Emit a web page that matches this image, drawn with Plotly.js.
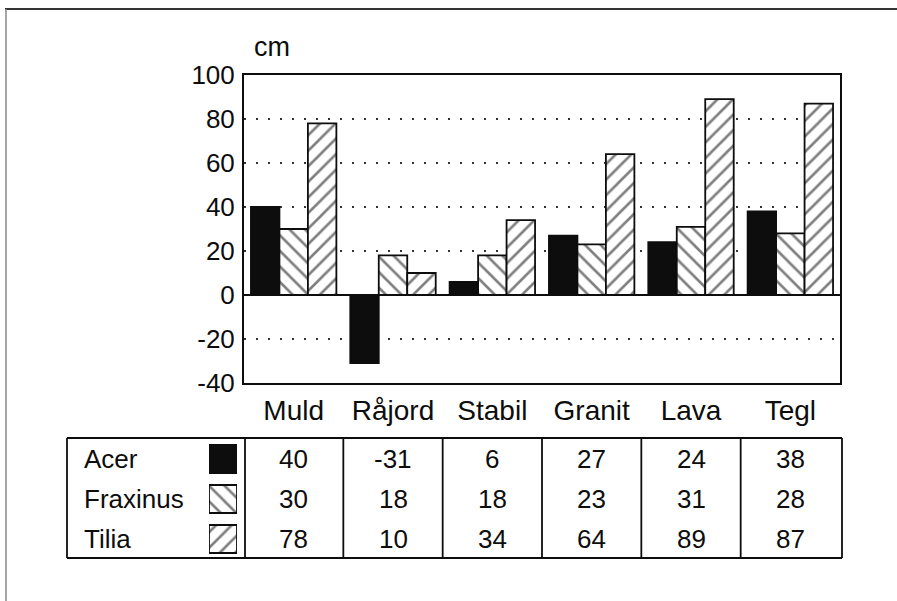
<!DOCTYPE html>
<html>
<head>
<meta charset="utf-8">
<script src="https://cdn.plot.ly/plotly-3.0.1.min.js"></script>
<style>html,body{margin:0;padding:0;background:#fff;}#chart{width:897px;height:601px;}</style>
</head>
<body>
<div id="chart"></div>
<script>
// ---- data ----
const categories = ["Muld", "Råjord", "Stabil", "Granit", "Lava", "Tegl"];
const seriesNames = ["Acer", "Fraxinus", "Tilia"];
const acer = [40, -31, 6, 27, 24, 38];
const fraxinus = [30, 18, 18, 23, 31, 28];
const tilia = [78, 10, 34, 64, 89, 87];
const yTickVals = [100, 80, 60, 40, 20, 0, -20, -40];
const unitLabel = "cm";

// ---- layout helpers (pixel -> paper) ----
const W = 897, H = 601;
const px = v => v / W;
const py = v => 1 - v / H;
const FONT = "Liberation Sans, Arial, Helvetica, sans-serif";
const ink = "#0d0d0d";

const seriesData = [acer, fraxinus, tilia];
const patterns = ["", "\\", "/"];

function markerFor(i) {
  if (i === 0) return {color: ink, line: {color: ink, width: 1.8}};
  return {
    color: "white",
    line: {color: ink, width: 1.8},
    pattern: {shape: patterns[i], fgcolor: "#000", bgcolor: "white", size: 11, solidity: 0.24, fillmode: "overlay"}
  };
}

const traces = seriesNames.map((name, i) => ({
  type: "bar", name: name, x: categories, y: seriesData[i],
  marker: markerFor(i), xaxis: "x", yaxis: "y", showlegend: false, hoverinfo: "x+y+name"
}));

// legend swatches in the table (separate small axes)
seriesNames.forEach((name, i) => {
  traces.push({
    type: "bar", orientation: "h", y: [name], x: [1], base: 0, width: 0.7,
    marker: markerFor(i), xaxis: "x2", yaxis: "y2", showlegend: false, hoverinfo: "skip"
  });
});

// table geometry
const tTop = 438, tBot = 558, tLeft = 67, tRight = 842;
const shapes = [];
// outer frame of the figure (top and left only)
shapes.push({type: "line", xref: "paper", yref: "paper", x0: px(5), x1: px(897), y0: py(9), y1: py(9), line: {color: "#333", width: 2}});
shapes.push({type: "line", xref: "paper", yref: "paper", x0: px(6), x1: px(6), y0: py(9), y1: py(601), line: {color: "#888", width: 1.5}});
// table rectangle
shapes.push({type: "line", xref: "paper", yref: "paper", x0: px(tLeft), x1: px(tRight), y0: py(tTop), y1: py(tTop), line: {color: ink, width: 1.8}});
shapes.push({type: "line", xref: "paper", yref: "paper", x0: px(tLeft), x1: px(tRight), y0: py(tBot), y1: py(tBot), line: {color: ink, width: 1.8}});
shapes.push({type: "line", xref: "paper", yref: "paper", x0: px(tLeft), x1: px(tLeft), y0: py(tTop), y1: py(tBot), line: {color: ink, width: 1.8}});
shapes.push({type: "line", xref: "paper", yref: "paper", x0: px(245), x1: px(245), y0: py(tTop), y1: py(tBot), line: {color: ink, width: 1.8}});
shapes.push({type: "line", xref: "paper", yref: "paper", x0: px(tRight), x1: px(tRight), y0: py(tTop), y1: py(tBot), line: {color: ink, width: 1.8}});
// inner column separators at category boundaries
for (let k = 1; k < categories.length; k++) {
  shapes.push({type: "line", xref: "x", yref: "paper", x0: k - 0.5, x1: k - 0.5, y0: py(tTop), y1: py(tBot), line: {color: ink, width: 1.8}});
}

const annotations = [];
annotations.push({text: unitLabel, xref: "paper", yref: "paper", x: px(272), y: py(47), showarrow: false,
  font: {family: FONT, size: 27, color: ink}, xanchor: "center", yanchor: "middle"});
// row labels
seriesNames.forEach(name => {
  annotations.push({text: name, xref: "paper", yref: "y2", x: px(82), y: name, showarrow: false,
    xanchor: "left", yanchor: "middle", font: {family: FONT, size: 26, color: ink}});
});
// table values
seriesNames.forEach((name, i) => {
  categories.forEach((c, j) => {
    annotations.push({text: String(seriesData[i][j]), xref: "x", yref: "y2", x: c, y: name, showarrow: false,
      xanchor: "center", yanchor: "middle", font: {family: FONT, size: 26, color: ink}});
  });
});

const layout = {
  width: W, height: H,
  margin: {l: 0, r: 0, t: 0, b: 0},
  paper_bgcolor: "white", plot_bgcolor: "white",
  barmode: "group", bargap: 0.14, bargroupgap: 0,
  font: {family: FONT, color: ink},
  xaxis: {
    domain: [px(244), px(840)], type: "category",
    showline: true, mirror: true, linecolor: ink, linewidth: 2,
    ticks: "", showgrid: false, zeroline: false,
    tickfont: {family: FONT, size: 28, color: ink}, ticklabelstandoff: 1
  },
  yaxis: {
    domain: [py(383), py(75)], range: [-40, 100],
    tickvals: yTickVals, ticktext: yTickVals.map(String),
    showline: true, mirror: true, linecolor: ink, linewidth: 2,
    ticks: "", showgrid: true, gridcolor: "#333", gridwidth: 1.3, griddash: "2px,10px",
    zeroline: true, zerolinecolor: ink, zerolinewidth: 1.8,
    tickfont: {family: FONT, size: 26, color: ink}, ticklabelstandoff: 2
  },
  xaxis2: {domain: [px(209), px(237)], range: [0, 1], anchor: "y2", visible: false, fixedrange: true},
  yaxis2: {domain: [py(559), py(439)], type: "category", categoryarray: seriesNames, categoryorder: "array",
    autorange: "reversed", anchor: "x2", visible: false, fixedrange: true},
  shapes: shapes,
  annotations: annotations
};

Plotly.newPlot("chart", traces, layout, {displayModeBar: false, staticPlot: true});
</script>
</body>
</html>
